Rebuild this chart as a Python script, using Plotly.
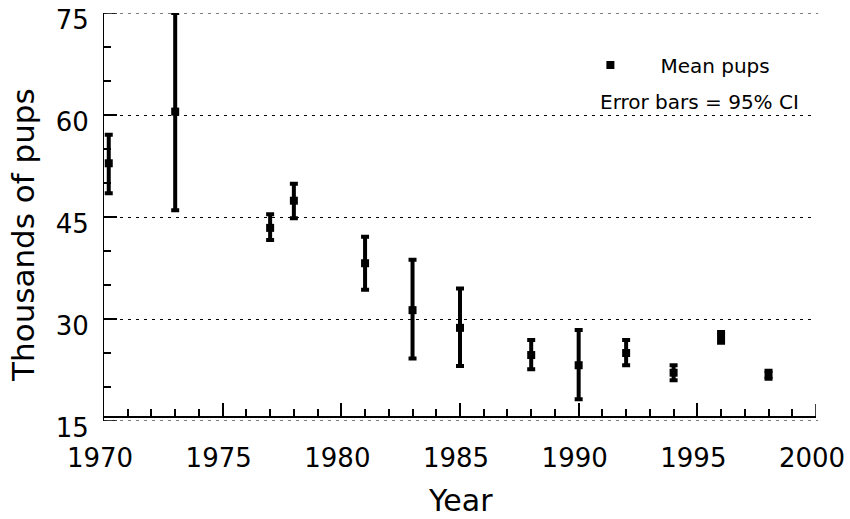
import plotly.graph_objects as go

years = [1970.2, 1973, 1977, 1978, 1981, 1983, 1985, 1988, 1990, 1992, 1994, 1996, 1998]
mean_pups = [52.9, 60.5, 43.4, 47.4, 38.2, 31.3, 28.7, 24.7, 23.2, 25.0, 22.1, 27.3, 21.8]
ci_upper = [57.1, 75.0, 45.4, 49.9, 42.1, 38.7, 34.5, 26.9, 28.4, 26.9, 23.2, 28.1, 22.4]
ci_lower = [48.5, 46.0, 41.6, 44.8, 34.3, 24.2, 23.1, 22.6, 18.2, 23.2, 21.0, 26.5, 21.2]

x_ticks = [1970, 1975, 1980, 1985, 1990, 1995, 2000]
y_ticks = [15, 30, 45, 60, 75]

err_plus = [u - m for u, m in zip(ci_upper, mean_pups)]
err_minus = [m - l for m, l in zip(mean_pups, ci_lower)]

FONT = "DejaVu Sans"
PLOT_W = 850 - 104 - 34
PLOT_H = 519 - 13 - 98
XAX_POS = 0.0098

fig = go.Figure()
fig.add_trace(go.Scatter(
    x=years, y=mean_pups, mode="markers", name="Mean pups",
    marker=dict(symbol="square", size=8, color="black"),
    error_y=dict(type="data", symmetric=False, array=err_plus, arrayminus=err_minus,
                 thickness=4, width=4, color="black"),
    showlegend=True,
    cliponaxis=False,
))

# gridlines and ticks at the axis ends (plotly clips these at range edges)
shapes = []
for yv in (y_ticks[0], y_ticks[-1]):
    shapes.append(dict(type="line", xref="paper", yref="y", x0=0, x1=1.003, y0=yv, y1=yv,
                       line=dict(color="black", width=1.2, dash="3px,5px"), layer="below"))
    shapes.append(dict(type="line", xref="paper", yref="y", x0=0, x1=13 / PLOT_W, y0=yv, y1=yv,
                       line=dict(color="black", width=1.5), layer="above"))
shapes.append(dict(type="line", xref="x", yref="paper", x0=x_ticks[-1], x1=x_ticks[-1],
                   y0=XAX_POS, y1=XAX_POS + 13 / PLOT_H,
                   line=dict(color="black", width=1.5), layer="above"))

fig.update_layout(
    width=850, height=519,
    margin=dict(l=104, r=34, t=13, b=98, autoexpand=False),
    plot_bgcolor="white", paper_bgcolor="white",
    font=dict(family=FONT, size=26, color="black"),
    showlegend=True,
    legend=dict(x=0.641, y=0.8725, xanchor="left", yanchor="middle",
                font=dict(family=FONT, size=20, color="black"),
                bgcolor="rgba(0,0,0,0)", itemwidth=90),
    xaxis=dict(
        range=[1970, 2000], tickvals=x_ticks, ticktext=[str(v) for v in x_ticks],
        showgrid=False, zeroline=False, automargin=False,
        showline=True, linecolor="black", linewidth=1.5,
        ticks="inside", ticklen=13, tickwidth=1.5, tickcolor="black",
        minor=dict(dtick=1, tick0=1970, ticks="inside", ticklen=7, tickwidth=1.5,
                   tickcolor="black", showgrid=False),
        anchor="free", position=XAX_POS,
        tickfont=dict(family=FONT, size=26),
        ticklabelstandoff=18, ticklabelshift=-4,
    ),
    yaxis=dict(
        range=[15, 75], tickvals=y_ticks, ticktext=[str(v) for v in y_ticks],
        showgrid=True, gridcolor="black", gridwidth=1.2, griddash="3px,5px",
        zeroline=False, automargin=False,
        showline=True, linecolor="black", linewidth=1,
        ticks="inside", ticklen=13, tickwidth=1.5, tickcolor="black",
        minor=dict(dtick=5, tick0=15, ticks="inside", ticklen=7, tickwidth=1.5,
                   tickcolor="black", showgrid=False),
        tickfont=dict(family=FONT, size=26),
        ticklabelstandoff=9, ticklabelshift=7,
    ),
    shapes=shapes,
    annotations=[
        dict(text="Thousands of pups", textangle=-90, xref="paper", yref="paper",
             x=-0.113, y=0.455, xanchor="center", yanchor="middle", showarrow=False,
             font=dict(family=FONT, size=31, color="black")),
        dict(text="Year", xref="paper", yref="paper",
             x=0.5, y=-0.194, xanchor="center", yanchor="middle", showarrow=False,
             font=dict(family=FONT, size=30, color="black")),
        dict(text="Error bars = 95% CI", xref="paper", yref="paper",
             x=0.694, y=0.782, xanchor="left", yanchor="middle", showarrow=False,
             font=dict(family=FONT, size=20, color="black")),
    ],
)

fig.write_html("out.html", config={"displayModeBar": False},
               post_script="document.body.style.margin='0';")
